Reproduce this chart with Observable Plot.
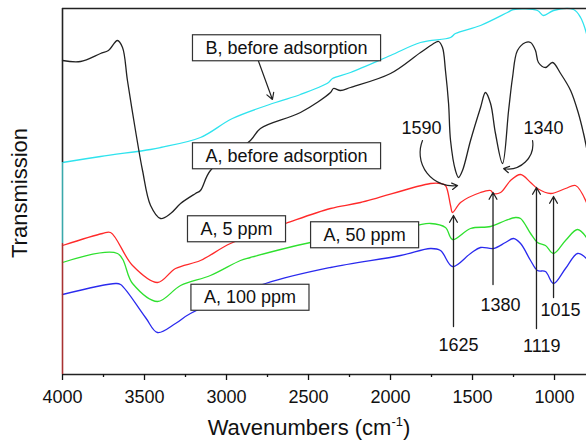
<!DOCTYPE html>
<html><head><meta charset="utf-8">
<script src="https://cdn.jsdelivr.net/npm/d3@7"></script>
<script src="https://cdn.jsdelivr.net/npm/@observablehq/plot@0.6"></script>
<style>body{margin:0;background:#fff} svg{display:block}</style>
</head><body><div id="chart"></div>
<script>
// ---- data (wavenumber in cm-1, transmission in arbitrary units) ----
const blackWn = [4000,3890,3768,3720,3665,3634,3604,3555,3512,3463,3402,3341,3280,3189,3159,3098,2854,2793,2549,2366,2348,2305,2244,2000,1817,1726,1707,1683,1665,1646,1634,1604,1585,1561,1512,1451,1421,1390,1360,1317,1280,1256,1226,1177,1146,1116,1098,1055,1012,963,902,854,823,805];
const blackT  = [314,313,321,324,334,327,294,244,204,169,156,161,171,181,184,204,234,246,262,282,286,284,287,301,322,332,333,327,304,271,234,204,197,204,234,267,282,271,241,211,264,297,324,332,332,324,312,307,312,301,284,261,241,227];

const cyanWn = [4000,3768,3463,3402,3159,2964,2701,2549,2378,2354,2244,2000,1817,1634,1604,1451,1287,1250,1104,1067,1006,884,841,805];
const cyanT  = [212,218,225,227,237,256,272,280,292,296,302,319,332,337,341,349,362,365,364,359,364,365,357,341];

const redWn = [4000,3756,3707,3573,3421,3311,3159,2976,2640,2366,2183,1756,1695,1665,1634,1622,1573,1451,1390,1372,1329,1268,1207,1146,1104,1024,933,872,805];
const redT  = [129,141,142,109,92,106,114,131,151,166,172,191,191,189,169,162,172,182,184,181,182,194,200,192,186,181,186,189,172];

const greenWn = [4000,3665,3573,3421,3280,3098,2915,2854,2488,1848,1756,1665,1622,1512,1390,1299,1238,1207,1146,1104,1055,1006,933,860,805];
const greenT  = [112,121,91,73,89,99,114,117,132,149,151,147,135,146,148,154,157,156,141,132,129,121,134,145,137];

const blueWn = [4000,3677,3646,3494,3421,3311,3220,2762,2366,1939,1756,1695,1622,1512,1451,1372,1299,1250,1207,1146,1104,1055,1006,933,860,805];
const blueT  = [80,91,90,57,42,51,61,91,107,119,126,124,108,121,127,126,132,136,131,114,104,103,91,106,121,116];

const seriesNames  = ["B, before adsorption","A, before adsorption","A, 5 ppm","A, 50 ppm","A, 100 ppm"];
const seriesColors = ["#2fe3ee","#222222","#ff2a2a","#2ee02e","#2a2aee"];

// label boxes: text, wavenumber, transmission (box centres)
const labelText = ["B, before adsorption","A, before adsorption","A, 5 ppm","A, 50 ppm","A, 100 ppm"];
const labelWn   = [2634,2634,2939,2158,2857];
const labelT    = [326.5,218.5,145.5,139.5,77];

// peak annotations
const peakText = ["1590","1340","1625","1380","1119","1015"];
const peakWn   = [1811,1067,1585,1329,1078,963];
const peakT    = [246,246,29,69,28,64];

// vertical arrows (from -> to)
const vArrowWn   = [1616,1375,1110,1006];
const vArrowFrom = [48,90,46,77];
const vArrowTo   = [159,182,187,178];

// curved arrows
const cArrowWn1 = [1805,1134]; const cArrowT1 = [234,234];
const cArrowWn2 = [1591,1311]; const cArrowT2 = [189,206];
const cArrowBend = [-60,55];

// pointer arrow for label B
const bArrow = {wn1: 2811, t1: 316, wn2: 2720, t2: 275};

const majorTicks = [4000,3500,3000,2500,2000,1500,1000];
const minorTicks = [3750,3250,2750,2250,1750,1250];

// left frame segments coloured by spectra
const edgeFrom  = [366,212,131];
const edgeTo    = [212,131,0];
const edgeColor = ["#222222","#3aa8aa","#a83232"];

// ---- build tables ----
const seriesData = [[cyanWn,cyanT],[blackWn,blackT],[redWn,redT],[greenWn,greenT],[blueWn,blueT]];
const rows = seriesData.flatMap(([w,t],k) => w.map((x,i)=>({series: seriesNames[k], wn: x, t: t[i]})));
const labels = labelText.map((s,i)=>({text:s, wn:labelWn[i], t:labelT[i]}));
const peaks = peakText.map((s,i)=>({text:s, wn:peakWn[i], t:peakT[i]}));
const vArrows = vArrowWn.map((w,i)=>({wn:w, from:vArrowFrom[i], to:vArrowTo[i]}));
const cArrows = cArrowWn1.map((w,i)=>({x1:w, y1:cArrowT1[i], x2:cArrowWn2[i], y2:cArrowT2[i]}));
const edges = edgeFrom.map((f,i)=>({wn:4000, from:f, to:edgeTo[i], color:edgeColor[i]}));

const FONT = "Liberation Sans, Arial, Helvetica, sans-serif";

const svg = Plot.plot({
  width: 586, height: 446,
  marginLeft: 62, marginRight: 0, marginTop: 8, marginBottom: 72,
  style: {fontFamily: FONT, background: "#fff", color: "#111"},
  x: {domain: [4000, 805]},
  y: {domain: [0, 366], axis: null},
  color: {domain: seriesNames, range: seriesColors},
  marks: [
    Plot.line(rows, {x: "wn", y: "t", z: "series", stroke: "series", strokeWidth: 1.3, curve: "catmull-rom"}),
    Plot.ruleY([366], {stroke: "#222", strokeWidth: 1.3}),
    Plot.ruleY([0], {stroke: "#222", strokeWidth: 1.3}),
    Plot.ruleX(edges, {x: "wn", y1: "from", y2: "to", stroke: d => d.color, strokeWidth: 1.6}),
    Plot.axisX({ticks: majorTicks, tickSize: 6, tickPadding: 10, fontSize: 18, tickFormat: d => String(d), label: null, strokeWidth: 1.3}),
    Plot.axisX({ticks: minorTicks, tickSize: 3, tickFormat: () => "", label: null, strokeWidth: 1.3}),
    Plot.arrow([bArrow], {x1: "wn1", y1: "t1", x2: "wn2", y2: "t2", stroke: "#222", strokeWidth: 1.2, headLength: 9}),
    Plot.arrow(vArrows, {x: "wn", y1: "from", y2: "to", stroke: "#222", strokeWidth: 1.3, headLength: 9}),
    Plot.arrow(cArrows.slice(0,1), {x1: "x1", y1: "y1", x2: "x2", y2: "y2", bend: cArrowBend[0], stroke: "#222", strokeWidth: 1.2, headLength: 8}),
    Plot.arrow(cArrows.slice(1,2), {x1: "x1", y1: "y1", x2: "x2", y2: "y2", bend: cArrowBend[1], stroke: "#222", strokeWidth: 1.2, headLength: 8}),
    Plot.text(peaks, {x: "wn", y: "t", text: "text", fontSize: 18, fill: "#111"}),
    Plot.text(labels, {x: "wn", y: "t", text: "text", fontSize: 18, fill: "#111"})
  ]
});
document.getElementById("chart").append(svg);

// white boxes with border behind series labels
svg.querySelectorAll("text").forEach(el => {
  if (!labelText.includes(el.textContent)) return;
  const bb = el.getBBox();
  const r = document.createElementNS("http://www.w3.org/2000/svg", "rect");
  r.setAttribute("x", bb.x - 13); r.setAttribute("y", bb.y - 3);
  r.setAttribute("width", bb.width + 26); r.setAttribute("height", bb.height + 6);
  r.setAttribute("fill", "#fff"); r.setAttribute("stroke", "#333"); r.setAttribute("stroke-width", 1.2);
  const tr = el.getAttribute("transform"); if (tr) r.setAttribute("transform", tr);
  el.parentNode.insertBefore(r, el);
});

// axis titles
const s = d3.select(svg);
const xt = s.append("text").attr("x", 309).attr("y", 435).attr("text-anchor", "middle")
  .attr("font-size", 22).attr("font-family", FONT).attr("fill", "#111");
xt.append("tspan").text("Wavenumbers (cm");
xt.append("tspan").attr("font-size", 13).attr("dy", -9).text("-1");
xt.append("tspan").attr("dy", 9).text(")");
s.append("text").attr("transform", "translate(27,193) rotate(-90)").attr("text-anchor", "middle")
  .attr("font-size", 22).attr("font-family", FONT).attr("fill", "#111").text("Transmission");
</script>
</body></html>
